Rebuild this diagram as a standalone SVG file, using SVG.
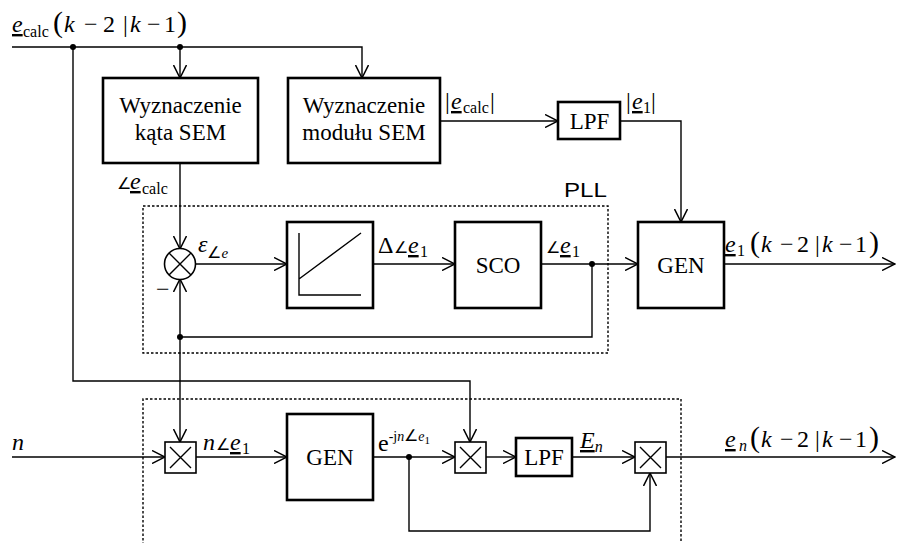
<svg xmlns="http://www.w3.org/2000/svg" width="898" height="543" viewBox="0 0 898 543">
<defs>
<style>
.box{fill:#fff;stroke:#000;stroke-width:2.6}
.mul{fill:#fff;stroke:#000;stroke-width:1.6}
.ln{fill:none;stroke:#000;stroke-width:1.4}
.dash{fill:none;stroke:#000;stroke-width:1.4;stroke-dasharray:2.5,2}
.t{font-family:"Liberation Serif","Times New Roman",serif;font-size:23px;fill:#000}
.m{font-family:"Liberation Serif","Times New Roman",serif;font-size:24px;fill:#000}
.i{font-style:italic}
.u{text-decoration:underline}
.p{font-size:30px}
.sb{font-size:16px}
.ang{font-family:"DejaVu Sans",sans-serif;font-size:16px;font-weight:200}
.s{font-family:"Liberation Sans",Arial,sans-serif;font-size:20px;fill:#000}
.arr{marker-end:url(#ah)}
</style>
<marker id="ah" viewBox="0 0 14 14" refX="13" refY="7" markerWidth="14" markerHeight="14" orient="auto" markerUnits="userSpaceOnUse">
<path d="M0,0.5 L13,7 L0,13.5" fill="none" stroke="#000" stroke-width="1.5"/>
</marker>
</defs>
<rect width="898" height="543" fill="#fff"/>

<g id="pll-frame">
<rect x="143" y="206" width="465" height="147" class="dash"/>
<text x="564" y="197" class="s" textLength="43" lengthAdjust="spacingAndGlyphs">PLL</text>
</g>
<g id="bottom-frame">
<path d="M143,545 V399 H681 V545" class="dash"/>
</g>

<g id="connectors">
<path d="M12,47 H362 V78" class="ln arr"/>
<path d="M180,47 V78" class="ln arr"/>
<path d="M73,47 V381 H470 V442" class="ln arr"/>
<path d="M180,163 V249" class="ln arr"/>
<path d="M440,121 H558" class="ln arr"/>
<path d="M620,121 H681 V222" class="ln arr"/>
<path d="M195,264 H287" class="ln arr"/>
<path d="M373,264 H455" class="ln arr"/>
<path d="M541,264 H638" class="ln arr"/>
<path d="M724,264 H895" class="ln arr"/>
<path d="M592,264 V337 H180" class="ln"/>
<path d="M180,337 V279" class="ln arr"/>
<path d="M180,337 V442" class="ln arr"/>
<path d="M12,457 H165" class="ln arr"/>
<path d="M196,457 H287" class="ln arr"/>
<path d="M373,457 H455" class="ln arr"/>
<path d="M409,457 V531 H650 V473" class="ln arr"/>
<path d="M486,457 H516" class="ln arr"/>
<path d="M572,457 H635" class="ln arr"/>
<path d="M666,457 H895" class="ln arr"/>
<circle cx="73" cy="47" r="3"/>
<circle cx="180" cy="47" r="3"/>
<circle cx="592" cy="264" r="3"/>
<circle cx="180" cy="337" r="3"/>
<circle cx="409" cy="457" r="3"/>
</g>

<g id="angle-block">
<rect x="103" y="78" width="155" height="85" class="box"/>
<text x="180.5" y="113" class="t" text-anchor="middle">Wyznaczenie</text>
<text x="180.5" y="140" class="t" text-anchor="middle">kąta SEM</text>
</g>
<g id="module-block">
<rect x="288" y="78" width="152" height="85" class="box"/>
<text x="364" y="113" class="t" text-anchor="middle">Wyznaczenie</text>
<text x="364" y="140" class="t" text-anchor="middle">modułu SEM</text>
</g>
<g id="lpf1">
<rect x="558" y="102" width="62" height="37" class="box"/>
<text x="589.5" y="129" class="t" text-anchor="middle" font-size="25">LPF</text>
</g>
<g id="gen1">
<rect x="638" y="222" width="86" height="86" class="box"/>
<text x="681" y="273" class="t" text-anchor="middle">GEN</text>
</g>
<g id="sco">
<rect x="455" y="222" width="86" height="86" class="box"/>
<text x="498" y="273" class="t" text-anchor="middle">SCO</text>
</g>
<g id="pi-block">
<rect x="287" y="222" width="86" height="86" class="box"/>
<path d="M299,233 V295 H361 M299,279 L361,233" class="ln"/>
</g>
<g id="summer">
<circle cx="180" cy="264" r="15.5" fill="#fff" stroke="#000" stroke-width="1.6"/>
<path d="M169,253 L191,275 M191,253 L169,275" class="ln"/>
<text x="156" y="297" class="m">−</text>
</g>
<g id="mul1">
<rect x="165" y="442" width="31" height="31" class="mul"/>
<path d="M170,447 L191,468 M191,447 L170,468" class="ln"/>
</g>
<g id="gen2">
<rect x="287" y="414" width="86" height="86" class="box"/>
<text x="330" y="465" class="t" text-anchor="middle">GEN</text>
</g>
<g id="mul2">
<rect x="455" y="442" width="31" height="31" class="mul"/>
<path d="M460,447 L481,468 M481,447 L460,468" class="ln"/>
</g>
<g id="lpf2">
<rect x="516" y="438" width="56" height="38" class="box"/>
<text x="544" y="465" class="t" text-anchor="middle" font-size="21">LPF</text>
</g>
<g id="mul3">
<rect x="635" y="442" width="31" height="31" class="mul"/>
<path d="M640,447 L661,468 M661,447 L640,468" class="ln"/>
</g>

<g id="labels">
<text y="32" class="m"><tspan x="12" class="i u">e</tspan><tspan x="23" class="sb" dy="5">calc</tspan><tspan x="53" dy="-5" class="p">(</tspan><tspan x="64" class="i">k</tspan><tspan x="84">−</tspan><tspan x="103">2</tspan><tspan x="123">|</tspan><tspan x="130" class="i">k</tspan><tspan x="147">−</tspan><tspan x="164">1</tspan><tspan x="177" class="p">)</tspan></text>
<text y="189" class="m"><tspan x="117" class="ang">∠</tspan><tspan x="130" class="i u">e</tspan><tspan x="142" class="sb" dy="5">calc</tspan></text>
<text y="109" class="m"><tspan x="445">|</tspan><tspan x="451" class="i u">e</tspan><tspan x="463" class="sb" dy="4">calc</tspan><tspan x="490" dy="-4">|</tspan></text>
<text y="109" class="m"><tspan x="626">|</tspan><tspan x="632" class="i u">e</tspan><tspan x="643" class="sb" dy="4">1</tspan><tspan x="651" dy="-4">|</tspan></text>
<text x="198" y="252" class="m"><tspan class="i">ε</tspan><tspan dy="6"><tspan class="ang" font-size="13">∠</tspan><tspan class="i" font-size="15">e</tspan></tspan></text>
<text y="253" class="m"><tspan x="378">Δ</tspan><tspan x="394" class="ang">∠</tspan><tspan x="408" class="i u">e</tspan><tspan x="420" class="sb" dy="4">1</tspan></text>
<text y="253" class="m"><tspan x="546" class="ang">∠</tspan><tspan x="560" class="i u">e</tspan><tspan x="572" class="sb" dy="4">1</tspan></text>
<text y="252" class="m"><tspan x="725" class="i u">e</tspan><tspan x="737" class="sb" dy="4">1</tspan><tspan x="750" dy="-4" class="p">(</tspan><tspan x="761" class="i">k</tspan><tspan x="780">−</tspan><tspan x="797">2</tspan><tspan x="815">|</tspan><tspan x="822" class="i">k</tspan><tspan x="839">−</tspan><tspan x="855">1</tspan><tspan x="869" class="p">)</tspan></text>
<text x="12" y="450" class="m i">n</text>
<text y="450" class="m"><tspan x="203" class="i">n</tspan><tspan x="216" class="ang">∠</tspan><tspan x="230" class="i u">e</tspan><tspan x="242" class="sb" dy="4">1</tspan></text>
<text x="378" y="451" class="m">e<tspan font-size="14" dy="-10">-j<tspan class="i">n</tspan><tspan class="ang" font-size="11">∠</tspan><tspan class="i">e</tspan><tspan font-size="11" dy="3">1</tspan></tspan></text>
<text x="580" y="448" class="m"><tspan class="i u">E</tspan><tspan class="sb i" dy="4">n</tspan></text>
<text y="447" class="m"><tspan x="725" class="i u">e</tspan><tspan x="739" class="sb i" dy="4">n</tspan><tspan x="750" dy="-4" class="p">(</tspan><tspan x="761" class="i">k</tspan><tspan x="780">−</tspan><tspan x="797">2</tspan><tspan x="815">|</tspan><tspan x="822" class="i">k</tspan><tspan x="839">−</tspan><tspan x="855">1</tspan><tspan x="869" class="p">)</tspan></text>
</g>
</svg>
